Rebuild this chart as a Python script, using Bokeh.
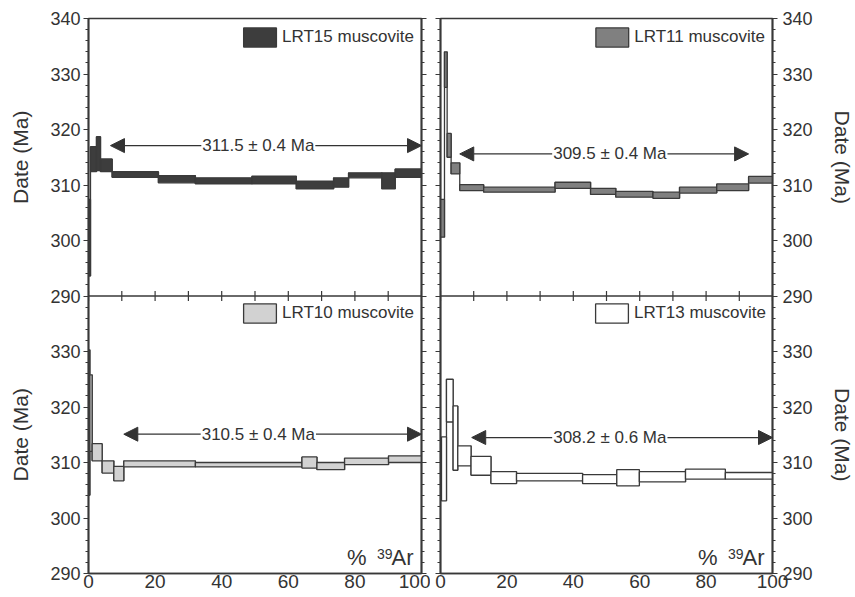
import math
from bokeh.plotting import figure
from bokeh.models import (Range1d, LinearAxis, FixedTicker, Span, Label, Arrow, NormalHead,
                          Legend, LegendItem, ColumnDataSource, CustomJSTickFormatter)
from bokeh.core.properties import value
from bokeh.layouts import row
from bokeh.embed import file_html
from bokeh.resources import INLINE

# ---------------- data ----------------
# cumulative % 39Ar step edges, and lower / upper limit of each step (Ma)
lrt15_edges = [0, 0.6, 2.4, 3.6, 7.1, 21.0, 32.1, 49.1, 62.4, 73.6, 78.1, 88.1, 92.1, 100]
lrt15_lo = [293.6, 312.4, 312.6, 312.4, 311.4, 310.4, 310.2, 310.2, 309.3, 309.6, 311.3, 309.3, 311.4]
lrt15_hi = [307.4, 316.9, 318.7, 314.7, 312.4, 311.7, 311.3, 311.6, 310.7, 311.3, 312.2, 312.2, 312.9]

lrt11_edges = [0, 1.2, 2.0, 3.2, 5.8, 13.0, 34.5, 45.2, 52.8, 64.0, 72.0, 83.2, 92.8, 100]
lrt11_lo = [300.6, 327.6, 315.0, 312.0, 309.0, 308.7, 309.4, 308.3, 307.8, 307.6, 308.55, 309.0, 310.35]
lrt11_hi = [307.4, 334.0, 319.3, 314.0, 310.05, 309.6, 310.5, 309.4, 308.85, 308.7, 309.6, 310.2, 311.55]

lrt10_edges = [0, 0.4, 1.1, 4.1, 7.6, 10.6, 32.1, 64.1, 68.6, 76.9, 90.1, 100]
lrt10_lo = [304.1, 312.0, 310.3, 308.1, 306.7, 309.2, 309.2, 309.0, 308.7, 309.6, 310.0]
lrt10_hi = [330.3, 325.8, 313.4, 310.3, 309.3, 310.3, 310.0, 311.0, 310.0, 310.8, 311.2]

lrt13_edges = [0.3, 1.8, 3.8, 5.2, 9.2, 15.2, 22.9, 42.8, 53.1, 59.9, 73.8, 85.8, 100]
lrt13_lo = [303.1, 317.3, 308.6, 309.4, 307.7, 306.2, 306.7, 306.2, 305.8, 306.5, 307.0, 307.0]
lrt13_hi = [314.6, 325.0, 320.2, 313.0, 311.1, 308.35, 308.05, 307.8, 308.7, 308.35, 308.8, 308.2]

# plateau: age, error, arrow level (Ma), arrow start / end (% 39Ar)
lrt15_plateau = dict(age=311.5, err=0.4, level=317.1, start=6.6, end=100)
lrt11_plateau = dict(age=309.5, err=0.4, level=315.6, start=5.8, end=92.8)
lrt10_plateau = dict(age=310.5, err=0.4, level=315.1, start=10.6, end=100)
lrt13_plateau = dict(age=308.2, err=0.6, level=314.5, start=9.4, end=100)

sample_names = ["LRT15 muscovite", "LRT11 muscovite", "LRT10 muscovite", "LRT13 muscovite"]

x_ticks = list(range(0, 101, 10))
x_label_ticks = list(range(0, 101, 20))
y_major = list(range(240, 341, 10))
y_minor = list(range(240, 341, 2))
y_title = "Date (Ma)"

# ---------------- styling ----------------
FONT = "Liberation Sans"
TEXT = "#333333"
FRAME = "#383838"
BOX_LINE = "#3a3a3a"
ARROW = "#333333"
FILLS = ["#3d3d3d", "#808080", "#d2d2d2", "#ffffff"]

UPPER = (240, 340)   # default range: upper panel occupies 290..340
LOWER = (290, 390)   # lower panel occupies 290..340 of this range
SPLIT = 290
SHIFT = LOWER[0] - UPPER[0]
MID = 315            # middle of each panel (in its own range)

H = 597
TOP = 18
BOTTOM = 24


def tick_formatter():
    return CustomJSTickFormatter(args=dict(split=SPLIT, shift=SHIFT),
                                 code="return String(tick < split ? tick + shift : tick)")


def style_y_axis(ax, labels):
    ax.axis_line_color = FRAME
    ax.axis_line_width = 1.7
    ax.major_tick_line_color = FRAME
    ax.minor_tick_line_color = FRAME
    ax.major_tick_line_width = 1.2
    ax.minor_tick_line_width = 1.0
    ax.major_tick_out = 5
    ax.major_tick_in = 0
    ax.minor_tick_out = 3
    ax.minor_tick_in = 0
    ax.major_label_text_font = FONT
    ax.major_label_text_color = TEXT
    ax.major_label_text_font_size = "18px"
    if not labels:
        ax.major_label_text_font_size = "1px"
        ax.major_label_text_color = None
        ax.major_label_text_alpha = 0
        ax.major_label_standoff = 0


def draw_spectrum(p, edges, lo, hi, fill, yname):
    src = ColumnDataSource(dict(left=edges[:-1], right=edges[1:], bottom=lo, top=hi))
    cx = edges[1:-1]
    cy0 = [min(lo[i], lo[i + 1]) for i in range(len(lo) - 1)]
    cy1 = [max(hi[i], hi[i + 1]) for i in range(len(hi) - 1)]
    p.segment(x0=cx, y0=cy0, x1=cx, y1=cy1, line_color=BOX_LINE, line_width=1.3,
              y_range_name=yname)
    r = p.quad(left="left", right="right", bottom="bottom", top="top", source=src,
               fill_color=fill, line_color=BOX_LINE, line_width=1.3, y_range_name=yname)
    return r


def draw_plateau(p, pl, yname):
    head = dict(size=14, fill_color=ARROW, line_color=ARROW, line_width=1)
    p.add_layout(Arrow(start=NormalHead(**head), end=NormalHead(**head),
                       x_start=pl["start"], y_start=pl["level"], x_end=pl["end"], y_end=pl["level"],
                       line_color=ARROW, line_width=1.3, y_range_name=yname))
    p.add_layout(Label(x=51, y=pl["level"], text=f"{pl['age']:.1f} ± {pl['err']:.1f} Ma",
                       text_align="center", text_baseline="middle", text_font=FONT,
                       text_font_size="17px", text_color=TEXT, background_fill_color="white",
                       padding=1, y_range_name=yname))


def make_legend(r, name, location):
    return Legend(items=[LegendItem(label=name, renderers=[r])], location=location,
                  margin=7, padding=0, spacing=0, glyph_width=41, glyph_height=24,
                  label_height=24, label_standoff=2, label_text_font=FONT,
                  label_text_font_size="17px", label_text_color=TEXT,
                  border_line_color=None, background_fill_alpha=0)


def make_column(width, b_left, b_right, label_side, up, low):
    p = figure(width=width, height=H, x_range=Range1d(0, 100), y_range=Range1d(*UPPER),
               output_backend="svg", toolbar_location=None, y_axis_location=None,
               min_border_left=b_left, min_border_right=b_right,
               min_border_top=TOP, min_border_bottom=BOTTOM)
    p.extra_y_ranges = {"lower": Range1d(*LOWER)}
    p.grid.visible = False
    p.outline_line_color = FRAME
    p.outline_line_width = 1.7
    p.background_fill_color = "white"
    p.border_fill_color = "white"

    xa = p.xaxis[0]
    xa.ticker = FixedTicker(ticks=x_label_ticks)
    xa.axis_line_color = FRAME
    xa.axis_line_width = 1.7
    xa.major_tick_out = 0
    xa.major_tick_in = 0
    xa.minor_tick_out = 0
    xa.minor_tick_in = 0
    xa.major_label_standoff = 1
    xa.major_label_text_font = FONT
    xa.major_label_text_font_size = "19px"
    xa.major_label_text_color = TEXT

    yl = LinearAxis(ticker=FixedTicker(ticks=y_major, minor_ticks=y_minor),
                    formatter=tick_formatter())
    yr = LinearAxis(ticker=FixedTicker(ticks=y_major, minor_ticks=y_minor),
                    formatter=tick_formatter())
    style_y_axis(yl, label_side == "left")
    style_y_axis(yr, label_side == "right")
    if label_side == "left":
        yl.major_label_standoff = 3
    else:
        yr.major_label_standoff = 5
    p.add_layout(yl, "left")
    p.add_layout(yr, "right")

    # boundary between the two panels, with inward ticks on both sides
    p.add_layout(Span(location=SPLIT, dimension="width", line_color=FRAME, line_width=1.7))
    p.scatter(x=x_ticks, y=[SPLIT] * len(x_ticks), marker="dash", angle=math.pi / 2,
              size=10, line_color=FRAME, line_width=1.2)

    # spectra
    r_up = draw_spectrum(p, *up["data"], up["fill"], "default")
    r_low = draw_spectrum(p, *low["data"], low["fill"], "lower")
    draw_plateau(p, up["plateau"], "default")
    draw_plateau(p, low["plateau"], "lower")

    p.add_layout(make_legend(r_up, up["name"], "top_right"))
    p.add_layout(make_legend(r_low, low["name"], (151, 248)))

    # "% 39Ar" in the lower panel
    common = dict(x=[100], y=[UPPER[0]], text_align="right", text_baseline="middle",
                  text_font=value(FONT), text_color=TEXT)
    p.text(text=["Ar"], x_offset=-8, y_offset=-16, text_font_size="22px", **common)
    p.text(text=["39"], x_offset=-29, y_offset=-20, text_font_size="14px", **common)
    p.text(text=["%"], x_offset=-55, y_offset=-16, text_font_size="22px", **common)
    return p


def make_title_strip(width, angle, xpos):
    t = figure(width=width, height=H, x_range=Range1d(0, 1), y_range=Range1d(*UPPER),
               output_backend="svg", toolbar_location=None, x_axis_location=None,
               y_axis_location=None, min_border_left=0, min_border_right=0,
               min_border_top=TOP, min_border_bottom=BOTTOM)
    t.extra_y_ranges = {"lower": Range1d(*LOWER)}
    t.outline_line_color = None
    t.grid.visible = False
    t.background_fill_color = "white"
    t.border_fill_color = "white"
    for yname in ("default", "lower"):
        t.text(x=[xpos], y=[MID], text=[y_title], angle=angle, text_align="center",
               text_baseline="middle", text_font=value(FONT), text_font_size="21px",
               text_color=TEXT, y_range_name=yname)
    return t


title_left = make_title_strip(40, math.pi / 2, 0.5)
left = make_column(390, 48, 9, "left",
                   dict(data=(lrt15_edges, lrt15_lo, lrt15_hi), fill=FILLS[0],
                        plateau=lrt15_plateau, name=sample_names[0]),
                   dict(data=(lrt10_edges, lrt10_lo, lrt10_hi), fill=FILLS[2],
                        plateau=lrt10_plateau, name=sample_names[2]))
right = make_column(385, 10, 42, "right",
                    dict(data=(lrt11_edges, lrt11_lo, lrt11_hi), fill=FILLS[1],
                         plateau=lrt11_plateau, name=sample_names[1]),
                    dict(data=(lrt13_edges, lrt13_lo, lrt13_hi), fill=FILLS[3],
                         plateau=lrt13_plateau, name=sample_names[3]))
title_right = make_title_strip(39, -math.pi / 2, 0.7)

layout = row(title_left, left, right, title_right)
open("out.html", "w").write(file_html(layout, INLINE))
